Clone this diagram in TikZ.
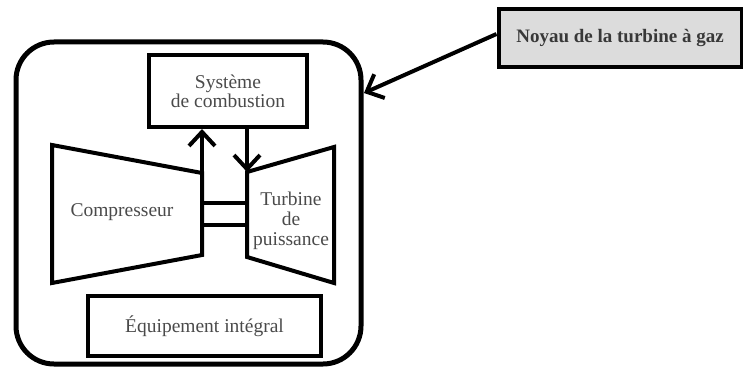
\documentclass[tikz,border=0pt]{standalone}
\usepackage{fontspec}
\setmainfont{Liberation Serif}
\usetikzlibrary{arrows.meta}
\definecolor{txt}{HTML}{4A4A4A}
\definecolor{boxgray}{HTML}{DCDCDC}
\tikzset{
  thickline/.style={line width=4pt},
  box/.style={draw, line width=4pt, inner sep=0pt, text=txt, align=center, font=\fontsize{19.5}{22}\selectfont},
  lbl/.style={text=txt, align=center, inner sep=0pt, font=\fontsize{19.5}{22}\selectfont},
  flow/.style={line width=4pt, -{Straight Barb[length=14pt,width=26pt,line width=4pt]}},
}
\begin{document}
\begin{tikzpicture}[x=1pt,y=-1pt]
\useasboundingbox (0,0) rectangle (743,369);
% outer core frame
\node[draw, line width=5pt, rounded corners=38pt, minimum width=345pt, minimum height=322pt] (core) at (188.5,203) {};
% combustion
\node[box, minimum width=158pt, minimum height=72pt] (comb) at (228,91) {Système\\[-3pt]de combustion};
% equipment
\node[box, minimum width=233pt, minimum height=60pt] (equip) at (204.5,326) {Équipement intégral};
% legend box
\node[box, fill=boxgray, minimum width=243pt, minimum height=58pt, font=\bfseries\fontsize{19}{22}\selectfont, text=black!78] (noyau) at (620,38) {Noyau de la turbine à gaz};
% compressor
\coordinate (c1) at (52,145);
\coordinate (c2) at (202,173);
\coordinate (c3) at (202,255);
\coordinate (c4) at (52,283);
\draw[thickline, line join=miter] (c1) -- (c2) -- (c3) -- (c4) -- cycle;
\node[lbl] (comp) at (122,212) {Compresseur};
% turbine
\coordinate (t1) at (247,172);
\coordinate (t2) at (334,147);
\coordinate (t3) at (334,283);
\coordinate (t4) at (247,257);
\draw[thickline, line join=miter] (t1) -- (t2) -- (t3) -- (t4) -- cycle;
\node[lbl] (turb) at (291,221) {Turbine\\[-2pt]de\\[-2pt]puissance};
% shaft
\coordinate (s1) at (202,203);
\coordinate (s2) at (247,203);
\coordinate (s3) at (202,225);
\coordinate (s4) at (247,225);
\draw[thickline] (s1) -- (s2);
\draw[thickline] (s3) -- (s4);
% flows
\draw[flow] (c2) -- (c2 |- comb.south);
\draw[flow] (t1 |- comb.south) -- (t1);
% legend arrow
\coordinate (tip) at (364,93);
\draw[flow] (noyau.west) ++(0,-4) -- (tip);
\end{tikzpicture}
\end{document}
